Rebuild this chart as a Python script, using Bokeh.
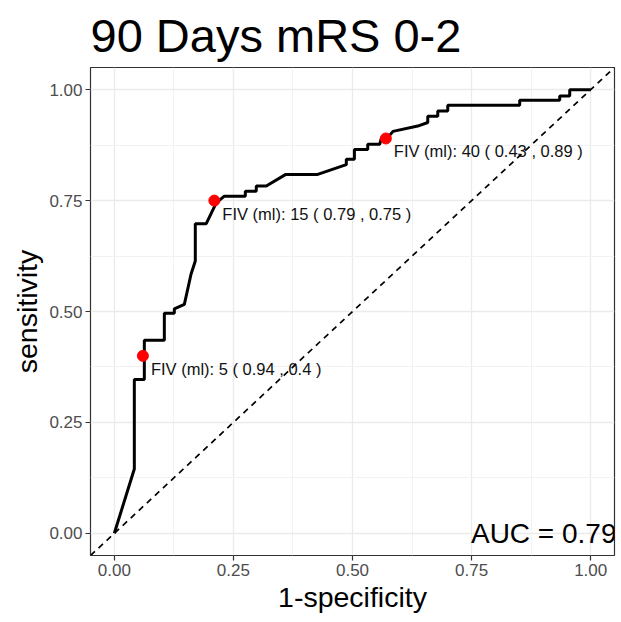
from bokeh.plotting import figure
from bokeh.models import FixedTicker, Slope, Label, ColumnDataSource
from bokeh.core.properties import value
from bokeh.embed import file_html
from bokeh.resources import INLINE

# ROC curve (1-specificity, sensitivity)
fpr = [0.0, 0.042, 0.042, 0.063, 0.063, 0.105, 0.105, 0.126, 0.126, 0.147, 0.161,
       0.170, 0.170, 0.193, 0.214, 0.231, 0.275, 0.275, 0.298, 0.298, 0.319, 0.360,
       0.427, 0.487, 0.487, 0.504, 0.504, 0.532, 0.532, 0.557, 0.561, 0.574, 0.585,
       0.637, 0.658, 0.658, 0.679, 0.679, 0.700, 0.700, 0.851, 0.851, 0.935, 0.935,
       0.956, 0.956, 1.0]
tpr = [0.0, 0.145, 0.347, 0.347, 0.435, 0.435, 0.496, 0.496, 0.506, 0.516, 0.584,
       0.614, 0.698, 0.698, 0.745, 0.760, 0.760, 0.771, 0.771, 0.783, 0.783, 0.809,
       0.809, 0.831, 0.843, 0.843, 0.865, 0.865, 0.877, 0.877, 0.892, 0.892, 0.906,
       0.918, 0.926, 0.940, 0.940, 0.952, 0.952, 0.965, 0.965, 0.976, 0.976, 0.986,
       0.986, 1.0, 1.0]

# labelled cut-offs
cut_fiv = [5, 15, 40]
cut_spec = [0.94, 0.79, 0.43]
cut_sens = [0.4, 0.75, 0.89]

tick_vals = [0.0, 0.25, 0.5, 0.75, 1.0]
tick_labels = ["0.00", "0.25", "0.50", "0.75", "1.00"]
minor_vals = [0.125, 0.375, 0.625, 0.875]

title_text = "90 Days mRS 0-2"
x_title = "1-specificity"
y_title = "sensitivity"
auc_text = "AUC = 0.79"

FONT = "Liberation Sans"

p = figure(frame_width=524, frame_height=488, x_range=(-0.05, 1.05), y_range=(-0.05, 1.05),
           output_backend="svg", toolbar_location=None,
           min_border_left=90, min_border_right=5, min_border_top=67, min_border_bottom=60,
           background_fill_color="white", border_fill_color="white")

p.title.text = title_text
p.title.text_font = FONT
p.title.text_font_size = "47px"
p.title.text_font_style = "normal"
p.title.text_color = "black"
p.title.align = "left"
p.title.standoff = 11

p.outline_line_color = "#333333"
p.outline_line_width = 1.2

for ax, lab in ((p.xaxis, x_title), (p.yaxis, y_title)):
    ax.ticker = FixedTicker(ticks=tick_vals)
    ax.major_label_overrides = {v: l for v, l in zip(tick_vals, tick_labels)}
    ax.axis_label = lab
    ax.axis_label_text_font = FONT
    ax.axis_label_text_font_size = "28.5px"
    ax.axis_label_text_font_style = "normal"
    ax.axis_label_text_color = "black"
    ax.major_label_text_font = FONT
    ax.major_label_text_font_size = "17px"
    ax.major_label_text_color = "#4D4D4D"
    ax.axis_line_color = None
    ax.major_tick_line_color = "#333333"
    ax.major_tick_line_width = 1.2
    ax.major_tick_in = 0
    ax.major_tick_out = 5
    ax.minor_tick_line_color = None
    ax.major_label_standoff = 3
p.xaxis.axis_label_standoff = 2
p.yaxis.axis_label_standoff = 3

for g in (p.xgrid, p.ygrid):
    g.ticker = FixedTicker(ticks=tick_vals, minor_ticks=minor_vals)
    g.grid_line_color = "#EBEBEB"
    g.grid_line_width = 1.3
    g.minor_grid_line_color = "#F2F2F2"
    g.minor_grid_line_width = 1.0

p.add_layout(Slope(gradient=1, y_intercept=0, line_color="black", line_width=1.7,
                   line_dash="6 5"))

p.line(fpr, tpr, line_color="black", line_width=3)

cut_x = [round(1 - s, 2) for s in cut_spec]
cut_text = [f"FIV (ml): {c} ( {sp} , {se} )" for c, sp, se in zip(cut_fiv, cut_spec, cut_sens)]
src = ColumnDataSource(dict(x=cut_x, y=cut_sens, t=cut_text))
p.scatter("x", "y", source=src, size=11, fill_color="red", line_color="red")
p.text("x", "y", text="t", source=src, x_offset=8, y_offset=4, text_baseline="top",
       text_align="left", text_font=value(FONT), text_font_size="16.5px", text_color="#111111")

p.add_layout(Label(x=1.05, y=0.0, text=auc_text, text_align="right", text_baseline="middle",
                   text_font=FONT, text_font_size="28px", text_color="black",
                   x_offset=2, y_offset=0))

open("out.html", "w").write(file_html(p, INLINE))
